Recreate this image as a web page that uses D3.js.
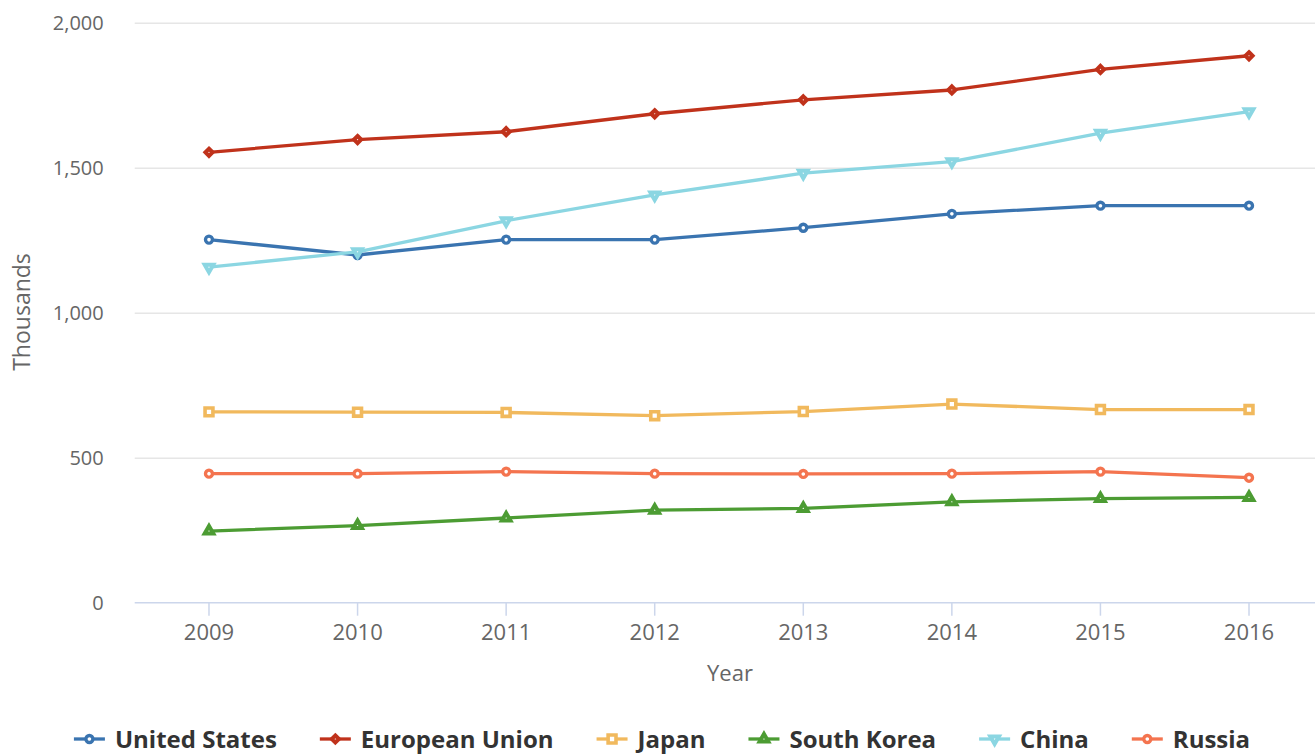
<!DOCTYPE html>
<html>
<head>
<meta charset="utf-8">
<script src="https://cdn.jsdelivr.net/npm/d3@7"></script>
<style>
  html, body { margin: 0; padding: 0; background: #fff; }
  svg { display: block; font-family: "Open Sans", sans-serif; }
</style>
</head>
<body>
<svg id="chart" width="1315" height="755"></svg>
<script>
// ---- Data ----
const years = ["2009", "2010", "2011", "2012", "2013", "2014", "2015", "2016"];
const yTicks = [0, 500, 1000, 1500, 2000];

const unitedStates = [1252, 1199, 1252, 1252, 1293, 1341, 1369, 1369];
const europeanUnion = [1553, 1597, 1624, 1686, 1734, 1768, 1839, 1886];
const japan = [658, 657, 656, 645, 659, 685, 666, 666];
const southKorea = [247, 266, 292, 319, 325, 348, 359, 363];
const china = [1157, 1210, 1317, 1406, 1481, 1521, 1619, 1693];
const russia = [445, 445, 452, 445, 444, 445, 452, 431];

const seriesNames = ["United States", "European Union", "Japan", "South Korea", "China", "Russia"];
const seriesValues = [unitedStates, europeanUnion, japan, southKorea, china, russia];

// styling per series (not data)
const colors = ["#3a74b0", "#c0321b", "#f1b95d", "#4c9c33", "#8bd6e2", "#f4744f"];
const markers = ["circle", "diamond", "square", "triangle", "triangle-down", "circle"];

const series = seriesNames.map((name, i) => ({
    name: name,
    color: colors[i],
    marker: markers[i],
    values: seriesValues[i]
}));

// ---- Layout ----
const svg = d3.select("#chart");
// the last band runs a little past the right edge of the picture
const plot = { left: 134.7, right: 1323.3, top: 22.7, bottom: 602.7 };

const x = d3.scaleBand()
    .domain(years)
    .range([plot.left, plot.right])
    .padding(0);
const xc = d => x(d) + x.bandwidth() / 2;

const y = d3.scaleLinear()
    .domain([0, 2000])
    .range([plot.bottom, plot.top]);

// ---- Grid lines + y labels ----
const yAxis = svg.append("g")
    .attr("transform", `translate(${plot.left},0)`)
    .call(d3.axisLeft(y)
        .tickValues(yTicks)
        .tickSize(-(plot.right - plot.left))
        .tickPadding(31)
        .tickFormat(d3.format(",")));
yAxis.select(".domain").remove();
yAxis.selectAll(".tick line")
    .attr("stroke", "#e6e6e6")
    .attr("stroke-width", 1.5)
    .attr("stroke-opacity", d => d === 0 ? 0 : 1);
yAxis.selectAll(".tick text")
    .attr("fill", "#666")
    .attr("font-size", 20)
    .attr("font-family", "Open Sans");

// ---- x axis ----
const xAxis = svg.append("g")
    .attr("transform", `translate(0,${plot.bottom})`)
    .call(d3.axisBottom(x)
        .tickSize(13)
        .tickPadding(9));
xAxis.select(".domain")
    .attr("stroke", "#ccd6eb")
    .attr("stroke-width", 1.5)
    .attr("d", `M${plot.left},0H1315`);
xAxis.selectAll(".tick line")
    .attr("stroke", "#ccd6eb")
    .attr("stroke-width", 1.5);
xAxis.selectAll(".tick text")
    .attr("fill", "#666")
    .attr("font-size", 22)
    .attr("font-family", "Open Sans");

// axis titles
svg.append("text")
    .attr("x", 730)
    .attr("y", 681)
    .attr("text-anchor", "middle")
    .attr("fill", "#666")
    .attr("font-size", 22)
    .text("Year");

svg.append("text")
    .attr("transform", `translate(30,312) rotate(-90)`)
    .attr("text-anchor", "middle")
    .attr("fill", "#666")
    .attr("font-size", 23)
    .text("Thousands");

// ---- Markers ----
const markerSpec = {
    "circle": { type: d3.symbolCircle, size: 38, sw: 3.4 },
    "diamond": { type: d3.symbolDiamond2, size: 32, sw: 4 },
    "square": { type: d3.symbolSquare, size: 62, sw: 3.6 },
    "triangle": { type: d3.symbolTriangle, size: 32, sw: 4 },
    "triangle-down": { type: d3.symbolTriangle, size: 32, sw: 4 }
};
function drawMarker(g, type, color) {
    const m = markerSpec[type];
    g.append("path")
        .attr("d", d3.symbol(m.type, m.size)())
        .attr("transform", type === "triangle-down" ? "rotate(180)" : null)
        .attr("fill", "#fff")
        .attr("stroke", color)
        .attr("stroke-width", m.sw)
        .attr("stroke-linejoin", "miter");
}

// ---- Lines ----
const line = d3.line()
    .x((d, i) => xc(years[i]))
    .y(d => y(d));

const seriesG = svg.append("g")
    .selectAll("g")
    .data(series)
    .join("g");

seriesG.append("path")
    .attr("d", d => line(d.values))
    .attr("fill", "none")
    .attr("stroke", d => d.color)
    .attr("stroke-width", 3.3)
    .attr("stroke-linejoin", "round")
    .attr("stroke-linecap", "round");

seriesG.each(function (s) {
    d3.select(this).selectAll("g.pt")
        .data(s.values)
        .join("g")
        .attr("class", "pt")
        .attr("transform", (d, i) => `translate(${xc(years[i])},${y(d)})`)
        .each(function () { drawMarker(d3.select(this), s.marker, s.color); });
});

// ---- Legend ----
const legend = svg.append("g").attr("transform", "translate(0,739)");
const items = legend.selectAll("g")
    .data(series)
    .join("g");
items.append("line")
    .attr("x1", 0).attr("x2", 31)
    .attr("stroke", d => d.color)
    .attr("stroke-width", 3.3);
items.each(function (s) {
    const m = d3.select(this).append("g").attr("transform", "translate(15.5,0)");
    drawMarker(m, s.marker, s.color);
});
items.append("text")
    .attr("x", 41)
    .attr("y", 0)
    .attr("dy", "0.36em")
    .attr("fill", "#333")
    .attr("font-size", 24)
    .attr("font-weight", "bold")
    .text(d => d.name);

// place items side by side, centred
const gap = 43;
let cursor = 0;
const offsets = [];
items.each(function () {
    offsets.push(cursor);
    const w = d3.select(this).select("text").node().getComputedTextLength();
    cursor += 41 + w + gap;
});
const total = cursor - gap;
const start = 662 - total / 2;
items.attr("transform", (d, i) => `translate(${start + offsets[i]},0)`);
</script>
</body>
</html>
